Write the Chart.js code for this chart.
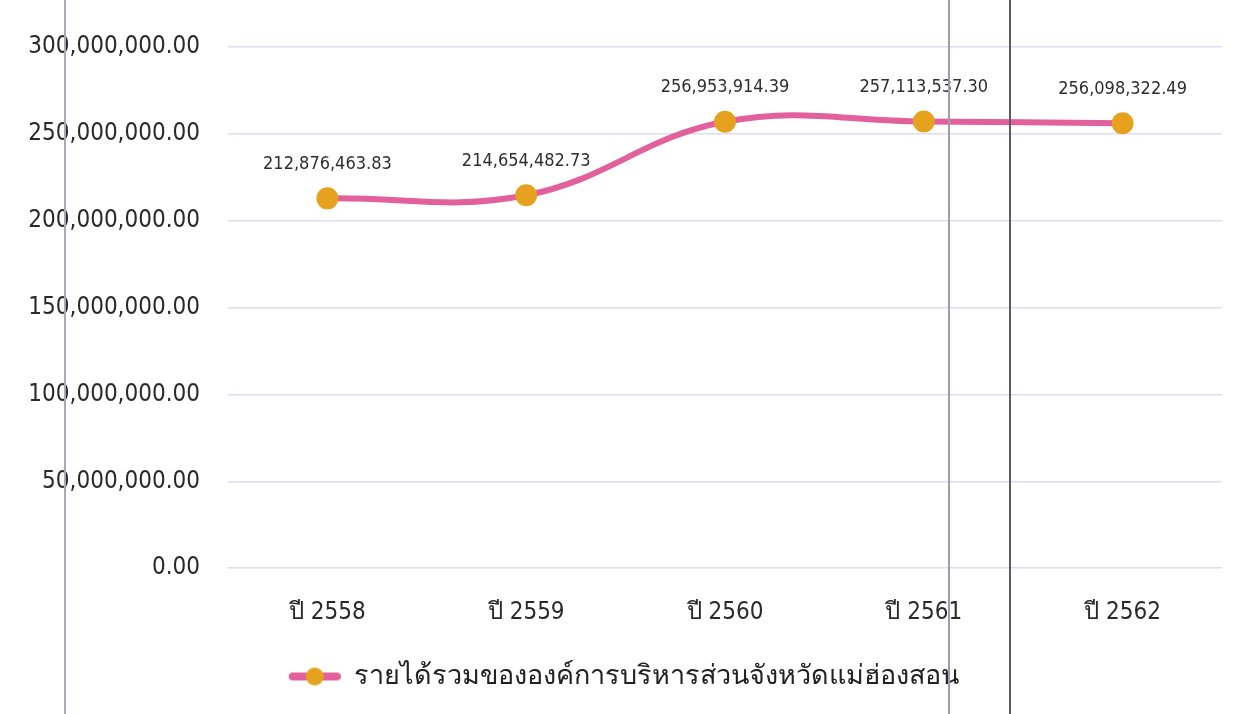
<!DOCTYPE html>
<html>
<head>
<meta charset="utf-8">
<script src="https://cdn.jsdelivr.net/npm/chart.js@4"></script>
<style>
  body { margin: 0; background: #fff; }
  #wrap { position: relative; width: 1238px; height: 714px; }
  .scan { position: absolute; top: 0; bottom: 0; pointer-events: none; }
</style>
</head>
<body>
<div id="wrap">
  <canvas id="myChart" width="1238" height="714"></canvas>
  <!-- เส้นจากการสแกนเอกสาร -->
  <div class="scan" style="left:64px;width:2px;background:#a9a9b8"></div>
  <div class="scan" style="left:948px;width:2px;background:#9c9cb0"></div>
  <div class="scan" style="left:1009px;width:2px;background:#5a5a66"></div>
</div>
<script>
// ข้อมูลรายได้รวม
const YEARS = ["ปี 2558", "ปี 2559", "ปี 2560", "ปี 2561", "ปี 2562"];
const INCOME = [212876463.83, 214654482.73, 256953914.39, 257113537.3, 256098322.49];
const SERIES_LABEL = "รายได้รวมขององค์การบริหารส่วนจังหวัดแม่ฮ่องสอน";
const Y_MAX = 300000000;
const Y_STEP = 50000000;

const LINE_COLOR = "#e2609b";
const DOT_COLOR = "#e6a21e";
const FONT = "'DejaVu Sans Condensed', 'DejaVu Sans', sans-serif";

const fmt = (v) =>
  Number(v).toLocaleString("en-US", { minimumFractionDigits: 2, maximumFractionDigits: 2 });

// ไอคอนตัวอย่างในคำอธิบาย: เส้นชมพูกับจุดส้ม (ชิดขวา ให้ติดกับข้อความ)
const ICON_W = 78;
const makeLegendIcon = () => {
  const c = document.createElement("canvas");
  c.width = ICON_W;
  c.height = 22;
  const g = c.getContext("2d");
  g.strokeStyle = LINE_COLOR;
  g.lineWidth = 8;
  g.lineCap = "round";
  g.beginPath();
  g.moveTo(30, 11);
  g.lineTo(74, 11);
  g.stroke();
  g.fillStyle = DOT_COLOR;
  g.beginPath();
  g.arc(52, 11, 9, 0, Math.PI * 2);
  g.fill();
  return c;
};

// ป้ายค่าเหนือจุดข้อมูล
const valueLabels = {
  id: "valueLabels",
  afterDatasetsDraw(chart) {
    const { ctx } = chart;
    const meta = chart.getDatasetMeta(0);
    ctx.save();
    ctx.font = "18px " + FONT;
    ctx.fillStyle = "#2e2e2e";
    ctx.textAlign = "center";
    ctx.textBaseline = "middle";
    meta.data.forEach((pt, i) => {
      ctx.fillText(fmt(chart.data.datasets[0].data[i]), pt.x, pt.y - 34);
    });
    ctx.restore();
  },
};

const ctx = document.getElementById("myChart").getContext("2d");

new Chart(ctx, {
  type: "line",
  data: {
    labels: YEARS,
    datasets: [
      {
        label: SERIES_LABEL,
        data: INCOME,
        borderColor: LINE_COLOR,
        borderWidth: 6,
        tension: 0.4,
        pointRadius: 8,
        pointBackgroundColor: DOT_COLOR,
        pointBorderColor: DOT_COLOR,
        pointStyle: "circle",
        fill: false,
      },
    ],
  },
  options: {
    responsive: false,
    animation: false,
    layout: {
      padding: { top: 47, right: 16, bottom: 14, left: 0 },
    },
    plugins: {
      legend: {
        position: "bottom",
        labels: {
          usePointStyle: true,
          pointStyle: makeLegendIcon(),
          pointStyleWidth: ICON_W,
          color: "#222",
          padding: 14,
          font: { family: FONT, size: 27 },
        },
      },
      tooltip: { enabled: false },
    },
    scales: {
      y: {
        min: 0,
        max: Y_MAX,
        afterFit: (s) => {
          s.width = 228;
        },
        border: { display: false },
        grid: { color: "#dedcf0", drawTicks: false, lineWidth: 1.5 },
        ticks: {
          stepSize: Y_STEP,
          padding: 28,
          color: "#2a2a2a",
          font: { family: FONT, size: 24 },
          callback: (v) => fmt(v),
        },
      },
      x: {
        offset: true,
        border: { display: false },
        grid: { display: false },
        ticks: {
          padding: 22,
          color: "#2a2a2a",
          font: { family: FONT, size: 24 },
        },
      },
    },
  },
  plugins: [valueLabels],
});
</script>
</body>
</html>
